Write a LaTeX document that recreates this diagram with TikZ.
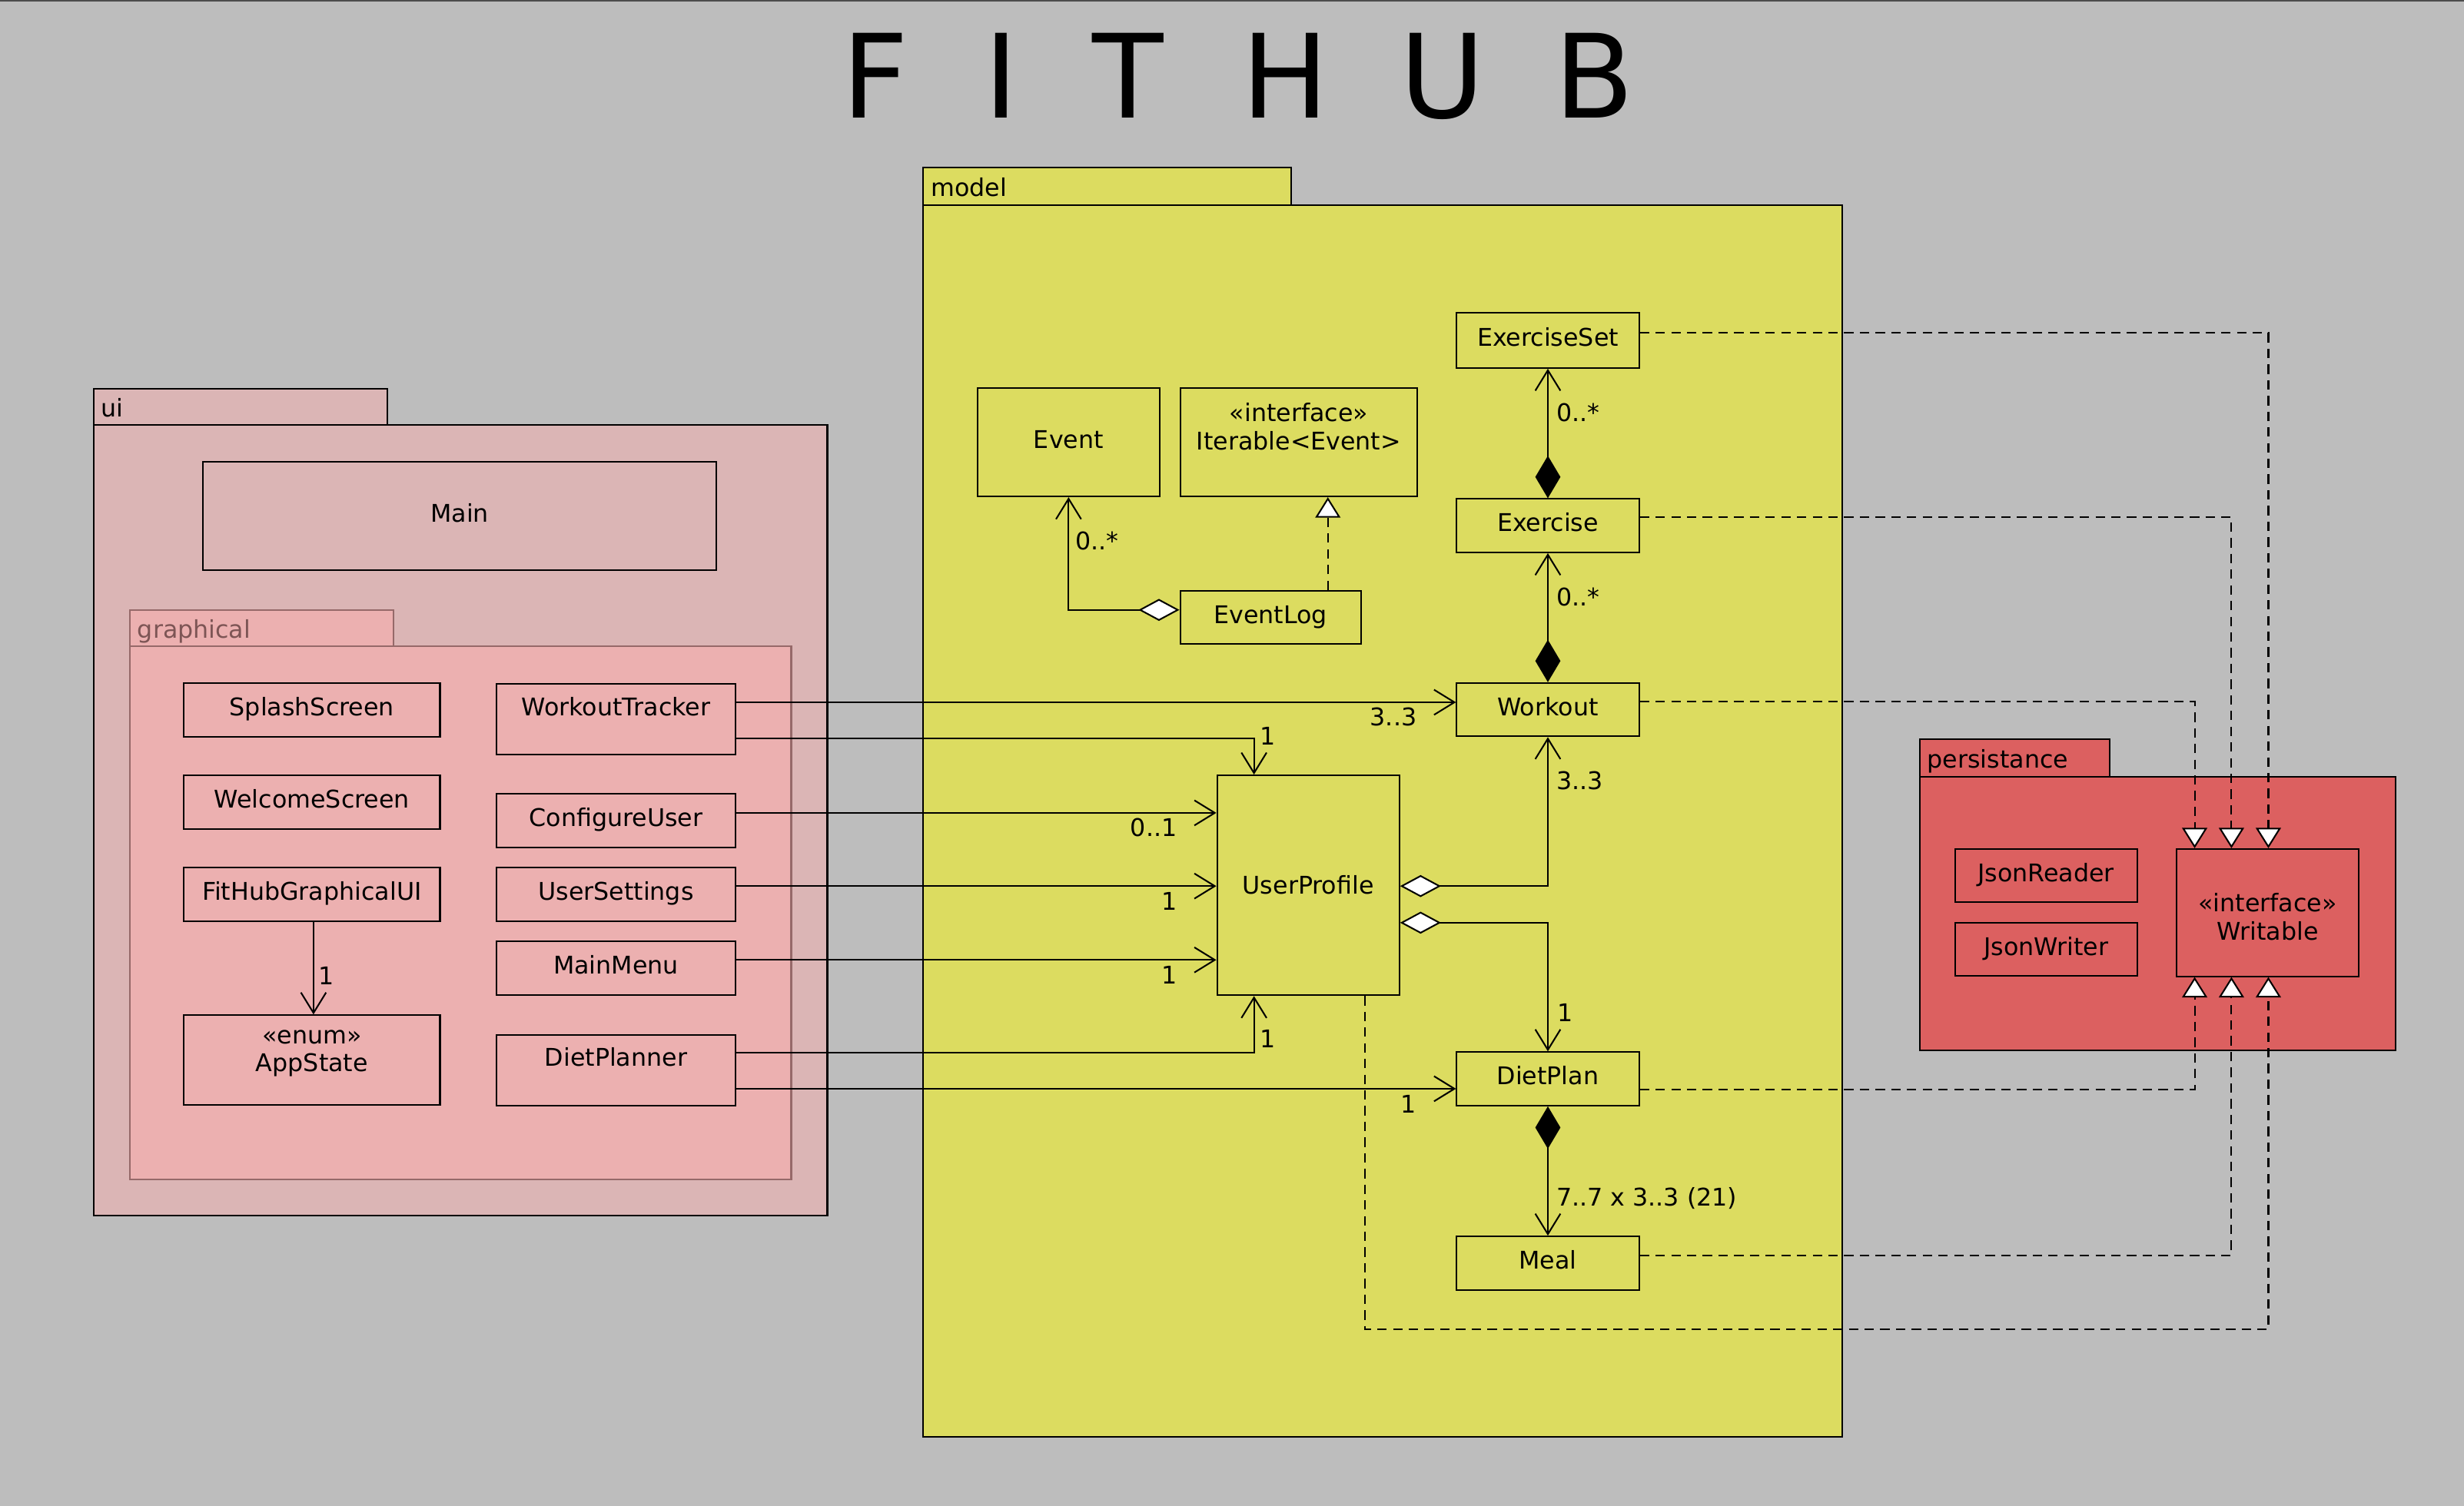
\documentclass[tikz,border=0pt]{standalone}
\usepackage{fontspec}
\setmainfont{DejaVu Sans}
\usetikzlibrary{arrows.meta}
\definecolor{bgc}{RGB}{189,189,189}
\definecolor{modelc}{RGB}{220,220,96}
\definecolor{uic}{RGB}{219,181,181}
\definecolor{graphc}{RGB}{236,176,176}
\definecolor{graphb}{RGB}{150,105,105}
\definecolor{grapht}{RGB}{125,85,85}
\definecolor{persc}{RGB}{220,96,96}
\begin{document}
\begin{tikzpicture}[x=1pt,y=-1pt,line width=1pt,
  txt/.style={font=\fontsize{15.5}{18}\selectfont},
  cls/.style={txt,draw,inner sep=0pt,text height=11pt,text depth=3.5pt},
  tcls/.style={txt,draw,anchor=north,inner xsep=0pt,inner ysep=7.5pt,text height=12.5pt,text depth=17.5pt},
  box/.style={draw,inner sep=0pt},
  pkg/.style={draw,anchor=north west,inner sep=0pt},
  tabn/.style={txt,draw,anchor=north west,inner xsep=5pt,inner ysep=0pt,align=left,text height=12.6pt,text depth=0pt},
  lbl/.style={txt,inner sep=0pt,text height=11.3pt,text depth=0pt},
  twol/.style={txt,align=center,inner sep=0pt},
  assoc/.style={-{Straight Barb[length=13pt,width=16pt]}},
  comp/.style={{Diamond[length=27pt,width=16pt]}-{Straight Barb[length=13pt,width=16pt]}},
  aggr/.style={{Diamond[open,fill=white,length=26pt,width=14pt]}-{Straight Barb[length=13pt,width=16pt]}},
  real/.style={dash pattern=on 6pt off 4pt,-{Triangle[open,fill=white,length=13pt,width=16pt]}}
]
% background
\useasboundingbox (0,0) rectangle (1568,958.6);
\fill[bgc] (0,0) rectangle (1568,958.6);
\draw[black!70,line width=1.2pt] (0,0.6) -- (1568,0.6);

% title
\node[anchor=base west,inner sep=0pt,font=\fontsize{74}{74}\selectfont] (title) at (556.5,75)
  {\makebox[0pt]{F}\hspace{80pt}\makebox[0pt]{I}\hspace{81pt}\makebox[0pt]{T}\hspace{100pt}\makebox[0pt]{H}\hspace{100pt}\makebox[0pt]{U}\hspace{96.5pt}\makebox[0pt]{B}};

% ---------- packages ----------
\node[pkg,fill=uic,minimum width=467pt,minimum height=503pt] (uibody) at (59,270) {};
\node[tabn,fill=uic,text width=177pt,minimum height=23pt] (uitab) at (59,247) {ui};

\node[pkg,fill=graphc,draw=graphb,minimum width=421pt,minimum height=339pt] (grbody) at (82,411) {};
\node[tabn,fill=graphc,draw=graphb,text=grapht,text width=158pt,minimum height=23pt] (grtab) at (82,388) {graphical};

\node[pkg,fill=modelc,minimum width=585pt,minimum height=784pt] (mbody) at (587,130) {};
\node[tabn,fill=modelc,text width=224pt,minimum height=24pt] (mtab) at (587,106) {model};

\node[pkg,fill=persc,minimum width=303pt,minimum height=174pt] (pbody) at (1221,494) {};
\node[tabn,fill=persc,text width=111pt,minimum height=24pt] (ptab) at (1221,470) {persistance};

% ---------- ui classes ----------
\node[cls,minimum width=327pt,minimum height=69pt] (main) at (292.5,328.5) {Main};
\node[cls,minimum width=163pt,minimum height=34pt] (splash) at (198.5,451.8) {SplashScreen};
\node[cls,minimum width=163pt,minimum height=34pt] (welcome) at (198.5,510.5) {WelcomeScreen};
\node[cls,minimum width=163pt,minimum height=34pt] (fhg) at (198.5,569.2) {FitHubGraphicalUI};
\node[box,minimum width=163pt,minimum height=57pt] (app) at (198.5,674.7) {};
\node[twol] (appt) at (198.5,670.5) {«enum»\\AppState};

\node[tcls,minimum width=152pt] (wt) at (392,435) {WorkoutTracker};
\node[cls,minimum width=152pt,minimum height=34pt] (cu) at (392,522.3) {ConfigureUser};
\node[cls,minimum width=152pt,minimum height=34pt] (us) at (392,569.2) {UserSettings};
\node[cls,minimum width=152pt,minimum height=34pt] (mm) at (392,616.2) {MainMenu};
\node[tcls,minimum width=152pt] (dpl) at (392,658.2) {DietPlanner};

% ---------- model classes ----------
\node[cls,minimum width=116pt,minimum height=35pt] (es) at (985,216.7) {ExerciseSet};
\node[cls,minimum width=116pt,minimum height=69pt] (ev) at (680,281.5) {Event};
\node[box,minimum width=151pt,minimum height=69pt] (it) at (826.5,281.5) {};
\node[twol] (itt) at (826.5,271.5) {«interface»\\Iterable<Event>};
\node[cls,minimum width=116pt,minimum height=34pt] (ex) at (985,334.6) {Exercise};
\node[cls,minimum width=115pt,minimum height=34pt] (el) at (808.5,393) {EventLog};
\node[cls,minimum width=116pt,minimum height=34pt] (wo) at (985,451.7) {Workout};
\node[cls,minimum width=116pt,minimum height=140pt,text depth=0pt] (up) at (832.5,563.5) {UserProfile};
\node[cls,minimum width=116pt,minimum height=34pt] (dp) at (985,686.7) {DietPlan};
\node[cls,minimum width=116pt,minimum height=34pt] (meal) at (985,804) {Meal};

% ---------- persistance classes ----------
\node[cls,minimum width=116pt,minimum height=34pt] (jr) at (1302,557.3) {JsonReader};
\node[cls,minimum width=116pt,minimum height=34pt] (jw) at (1302,604.3) {JsonWriter};
\node[box,minimum width=116pt,minimum height=81pt] (wr) at (1443,580.9) {};
\node[twol] (wrt) at (1443,583.5) {«interface»\\Writable};

% ---------- connectors ----------
\draw[assoc] (fhg.south -| 199.5,0) -- (app.north -| 199.5,0);
\node[lbl,anchor=west] (l1) at (202,621) {1};

\draw[assoc] (wt.east |- 0,447) -- (wo.west |- 0,447);
\node[lbl,anchor=east] (l2) at (902,456.5) {3..3};

\draw[assoc] (wt.east |- 0,470) -| (up.north -| 798,0);
\node[lbl,anchor=west] (l3) at (801.5,468.5) {1};

\draw[assoc] (cu.east |- 0,517.4) -- (up.west |- 0,517.4);
\node[lbl,anchor=east] (l4) at (749.5,526.7) {0..1};

\draw[assoc] (us.east |- 0,564) -- (up.west |- 0,564);
\node[lbl,anchor=east] (l5) at (749.5,573.5) {1};

\draw[assoc] (mm.east |- 0,611) -- (up.west |- 0,611);
\node[lbl,anchor=east] (l6) at (749.5,620.4) {1};

\draw[assoc] (dpl.east |- 0,669.8) -| (up.south -| 798,0);
\node[lbl,anchor=west] (l7) at (801.5,661) {1};

\draw[assoc] (dpl.east |- 0,693) -- (dp.west |- 0,693);
\node[lbl,anchor=east] (l8) at (901.5,702.7) {1};

\draw[comp] (ex.north) -- (es.south);
\node[lbl,anchor=west] (l9) at (990,262.7) {0..*};

\draw[comp] (wo.north) -- (ex.south);
\node[lbl,anchor=west] (l10) at (990,379.8) {0..*};

\draw[aggr] (up.east |- 0,564) -| (wo.south);
\node[lbl,anchor=west] (l11) at (990,497) {3..3};

\draw[aggr] (up.east |- 0,587.3) -| (dp.north);
\node[lbl,anchor=west] (l12) at (990.5,644.6) {1};

\draw[comp] (dp.south) -- (meal.north);
\node[lbl,anchor=west] (l13) at (990,762) {7..7 x 3..3 (21)};

\draw[aggr] (el.west |- 0,388.2) -| (ev.south);
\node[lbl,anchor=west] (l14) at (684,344.5) {0..*};

\draw[real] (el.north -| 845,0) -- (it.south -| 845,0);

% realizations of Writable
\draw[real] (es.east |- 0,212) -| (wr.north -| 1443.5,0);
\draw[real] (ex.east |- 0,329) -| (wr.north -| 1420,0);
\draw[real] (wo.east |- 0,446.6) -| (wr.north -| 1396.6,0);
\draw[real] (dp.east |- 0,693.3) -| (wr.south -| 1396.6,0);
\draw[real] (meal.east |- 0,799) -| (wr.south -| 1420,0);
\draw[real] (up.south -| 868.6,0) -- ++(0,212.1) -| (wr.south -| 1443.5,0);
\end{tikzpicture}
\end{document}
